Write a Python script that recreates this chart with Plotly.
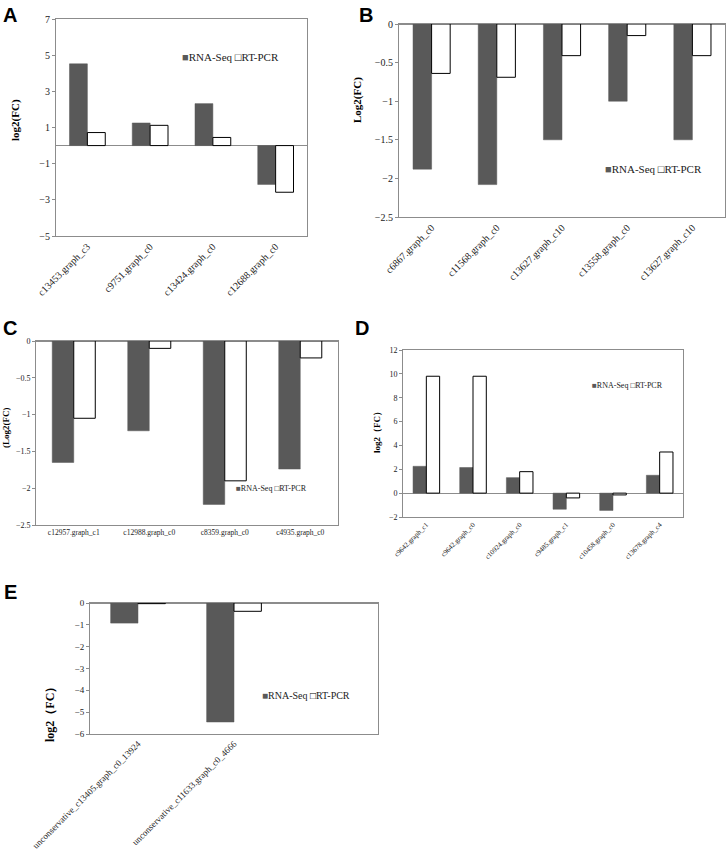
import plotly.graph_objects as go

# ── data ──────────────────────────────────────────────────────────────────────
a_genes = ["c13453.graph_c3", "c9751.graph_c0", "c13424.graph_c0", "c12688.graph_c0"]
a_rnaseq = [4.52, 1.25, 2.32, -2.15]
a_rtpcr = [0.72, 1.12, 0.45, -2.58]

b_genes = ["c6867.graph_c0", "c11568.graph_c0", "c13627.graph_c10",
           "c13558.graph_c0", "c13627.graph_c10"]
b_rnaseq = [-1.88, -2.08, -1.50, -1.00, -1.50]
b_rtpcr = [-0.64, -0.69, -0.41, -0.15, -0.41]

c_genes = ["c12957.graph_c1", "c12988.graph_c0", "c8359.graph_c0", "c4935.graph_c0"]
c_rnaseq = [-1.65, -1.22, -2.22, -1.74]
c_rtpcr = [-1.05, -0.10, -1.90, -0.23]

d_genes = ["c9642.graph_c1", "c9642.graph_c0", "c10924.graph_c0",
           "c9485.graph_c1", "c10458.graph_c0", "c13678.graph_c4"]
d_rnaseq = [2.25, 2.15, 1.30, -1.35, -1.45, 1.50]
d_rtpcr = [9.80, 9.80, 1.80, -0.40, -0.15, 3.45]

e_genes = ["unconservative_c13405.graph_c0_13924", "unconservative_c11633.graph_c0_4666"]
e_rnaseq = [-0.92, -5.45]
e_rtpcr = [-0.03, -0.38]

# ── style ─────────────────────────────────────────────────────────────────────
_C_SEQ = "#595959"
_C_PCR = "white"
_C_AXIS = "#8c8c8c"
SERIF = "Liberation Serif, Times New Roman, serif"
SANS = "Liberation Sans, Arial, sans-serif"
W, H = 726, 863


def px_x(v):
    return v / W


def px_y(v):
    return 1 - v / H


# per panel: axis suffix, data, x/y domain (px), y range, dtick, tick angle,
# tick font, legend pos (px), legend font, y title, title pos (px), title font
panels = [
    dict(k="", genes=a_genes, seq=a_rnaseq, pcr=a_rtpcr,
         xd=(56, 307), yd=(19, 236), yr=(-5, 7), dt=2, ang=-45, tfs=10,
         lxy=(180, 57), lfs=11, yt="log2(FC)", txy=(15, 120), tsz=11),
    dict(k="2", genes=b_genes, seq=b_rnaseq, pcr=b_rtpcr,
         xd=(399, 725), yd=(24, 217), yr=(-2.5, 0), dt=0.5, ang=-45, tfs=10,
         lxy=(603, 169), lfs=11, yt="Log2(FC)", txy=(358, 100), tsz=11),
    dict(k="3", genes=c_genes, seq=c_rnaseq, pcr=c_rtpcr,
         xd=(36, 338), yd=(341, 525), yr=(-2.5, 0), dt=0.5, ang=0, tfs=7.5,
         lxy=(234, 488), lfs=8, yt="(Log2(FC)", txy=(6, 428), tsz=9),
    dict(k="4", genes=d_genes, seq=d_rnaseq, pcr=d_rtpcr,
         xd=(403, 683), yd=(350, 517), yr=(-2, 12), dt=2, ang=-45, tfs=7,
         lxy=(590, 385), lfs=8, yt="log2（FC）", txy=(377, 430), tsz=9),
    dict(k="5", genes=e_genes, seq=e_rnaseq, pcr=e_rtpcr,
         xd=(90, 378), yd=(603, 734), yr=(-6, 0), dt=1, ang=-45, tfs=9,
         lxy=(260, 695), lfs=10, yt="log2（FC）", txy=(50, 712), tsz=12,
         xr=(-0.5, 2.5)),
]

fig = go.Figure()
annotations = []
layout = {}

for p in panels:
    k = p["k"]
    xs = list(range(len(p["genes"])))
    fig.add_trace(go.Bar(
        x=xs, y=p["seq"], name="RNA-Seq",
        marker=dict(color=_C_SEQ, line=dict(color=_C_SEQ, width=0.5)),
        xaxis="x" + k, yaxis="y" + k, showlegend=False,
    ))
    fig.add_trace(go.Bar(
        x=xs, y=p["pcr"], name="RT-PCR",
        marker=dict(color=_C_PCR, line=dict(color="black", width=1)),
        xaxis="x" + k, yaxis="y" + k, showlegend=False,
    ))
    xr = p.get("xr", (-0.5, len(xs) - 0.5))
    layout["xaxis" + k] = dict(
        domain=[px_x(p["xd"][0]), px_x(p["xd"][1])], anchor="y" + k,
        tickvals=xs, ticktext=p["genes"], tickangle=p["ang"],
        range=list(xr), automargin=False,
        tickfont=dict(family=SERIF, size=p["tfs"], color="#222"),
        showline=True, mirror=True, linecolor=_C_AXIS, linewidth=1,
        showgrid=False, zeroline=False, ticks="", fixedrange=True,
    )
    layout["yaxis" + k] = dict(
        domain=[px_y(p["yd"][1]), px_y(p["yd"][0])], anchor="x" + k,
        range=list(p["yr"]), dtick=p["dt"], tick0=p["yr"][0], automargin=False,
        tickfont=dict(family=SERIF, size=max(p["tfs"], 8), color="#222"),
        showline=True, mirror=True, linecolor=_C_AXIS, linewidth=1,
        showgrid=False, zeroline=True, zerolinecolor=_C_AXIS, zerolinewidth=1,
        ticks="outside", ticklen=3, tickcolor=_C_AXIS, fixedrange=True,
    )
    # legend key, Excel style: small square glyph right before each name
    annotations.append(dict(
        x=px_x(p["lxy"][0]), y=px_y(p["lxy"][1]), xref="paper", yref="paper",
        xanchor="left", yanchor="middle", showarrow=False,
        text=("<span style='color:%s'>■</span>RNA-Seq "
              "<span style='color:black'>□</span>RT-PCR" % _C_SEQ),
        font=dict(family=SERIF, size=p["lfs"], color="#222"),
    ))
    annotations.append(dict(
        x=px_x(p["txy"][0]), y=px_y(p["txy"][1]), xref="paper", yref="paper",
        xanchor="center", yanchor="middle",
        text="<b>%s</b>" % p["yt"], textangle=-90, showarrow=False,
        font=dict(family=SERIF, size=p["tsz"], color="black"),
    ))

for letter, (lx, ly) in zip("ABCDE", [(10, 15), (366, 15), (10, 328),
                                      (362, 328), (10, 592)]):
    annotations.append(dict(
        x=px_x(lx), y=px_y(ly), xref="paper", yref="paper",
        xanchor="center", yanchor="middle",
        text="<b>%s</b>" % letter, showarrow=False,
        font=dict(family=SANS, size=20, color="black"),
    ))

fig.update_layout(
    **layout,
    annotations=annotations,
    barmode="group", bargap=0.43, bargroupgap=0,
    width=W, height=H,
    margin=dict(l=0, r=0, t=0, b=0),
    paper_bgcolor="white", plot_bgcolor="white",
)

# drop the browser's default 8px body margin so the figure sits at 0,0
fig.write_html("out.html", config={"displayModeBar": False},
               post_script="document.body.style.margin='0';")
